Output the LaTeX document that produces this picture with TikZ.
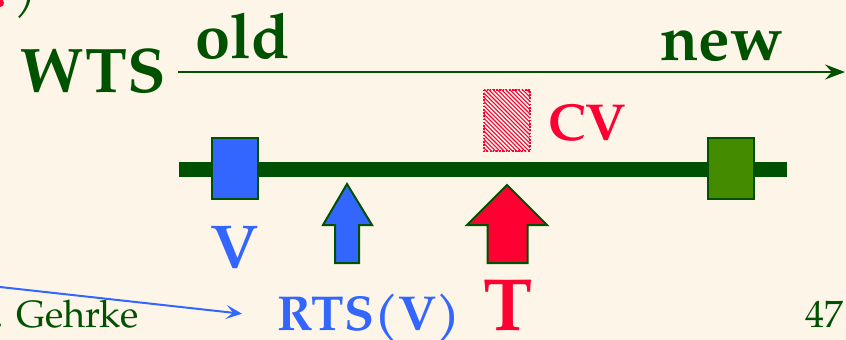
\documentclass[tikz,border=0pt]{standalone}
\usepackage{fontspec}
\setmainfont{TeX Gyre Pagella}
\usetikzlibrary{arrows.meta}
\definecolor{bg}{HTML}{FEF5E9}
\definecolor{dgreen}{HTML}{005200}
\definecolor{vblue}{HTML}{3366FF}
\definecolor{tred}{HTML}{FF0033}
\definecolor{ngreen}{HTML}{458B00}
\newcommand{\fs}[1]{\fontsize{#1}{#1}\selectfont}
\begin{document}
\begin{tikzpicture}[x=1pt,y=-1pt,
  lbl/.style={inner sep=0pt,anchor=base west,font=\bfseries},
  tsbox/.style={draw=dgreen,line width=2pt,minimum width=46pt,minimum height=61pt,inner sep=0pt},
  uparrow/.style={draw=dgreen,line width=2pt,line join=miter}]
\fill[bg] (0,0) rectangle (846,340);
\useasboundingbox (0,0) rectangle (846,340);
% top-left remnants
\fill[tred] (0,3) circle (4pt);
\node[inner sep=0pt,anchor=base,text=dgreen,font=\itshape\fs{50}] (paren) at (26,6) {)};
% axis
\node[lbl,text=dgreen,font=\bfseries\fs{63}] (wts) at (20,92) {WTS};
\node[lbl,text=dgreen,font=\bfseries\fs{63}] (old) at (195,58) {old};
\node[lbl,text=dgreen,font=\bfseries\fs{63}] (new) at (660,60) {new};
\coordinate (axs) at (178,72);
\coordinate (axe) at (845,72);
\draw[dgreen,line width=2.5pt,-{Stealth[length=20pt,width=15pt,inset=7pt]}] (axs) -- (axe);
% timeline
\coordinate (tls) at (179,169);
\coordinate (tle) at (787,169);
\draw[dgreen,line width=15pt] (tls) -- (tle);
\node[tsbox,fill=vblue] (vbox) at (235,168.5) {};
\node[tsbox,fill=ngreen] (nbox) at (731,168.5) {};
% hatched CV box
\node[minimum width=46pt,minimum height=61pt,inner sep=0pt] (cvbox) at (507,120.5) {};
\begin{scope}
  \clip (cvbox.north west) rectangle (cvbox.south east);
  \foreach \k in {-63,-58.8,...,48} {
    \draw[tred,line width=1.1pt] (484+\k,89) -- (484+\k+63,152);
  }
\end{scope}
\draw[tred,line width=1.6pt,dash pattern=on 1.6pt off 1.6pt] (cvbox.north west) rectangle (cvbox.south east);
\node[lbl,text=tred,font=\bfseries\fs{52}] (cv) at (548,140) {CV};
% arrows
\draw[uparrow,fill=vblue] (347,184) -- (372,225) -- (359,225) -- (359,263) -- (335,263) -- (335,225) -- (323,225) -- cycle;
\draw[uparrow,fill=tred] (507,185) -- (547,225) -- (527.5,225) -- (527.5,263) -- (487.5,263) -- (487.5,225) -- (467,225) -- cycle;
% labels
\node[lbl,anchor=base,text=vblue,font=\bfseries\fs{62}] (vl) at (235,268) {V};
\node[lbl,text=vblue,font=\bfseries\fs{49}] (rts) at (277,330) {RTS(V)};
\node[lbl,anchor=base,text=tred,font=\bfseries\fs{74}] (tl) at (508,330) {T};
\node[inner sep=0pt,anchor=base east,text=dgreen,font=\fs{38}] (geh) at (139,327) {. Gehrke};
\node[inner sep=0pt,anchor=base east,text=dgreen,font=\fs{38}] (pg) at (844,327) {47};
% connector
\coordinate (cst) at (0,287);
\draw[vblue,line width=2pt,-{Stealth[length=16pt,width=14pt,inset=7pt]}] (cst) -- ([xshift=-35pt,yshift=4pt]rts.west);
\end{tikzpicture}
\end{document}
